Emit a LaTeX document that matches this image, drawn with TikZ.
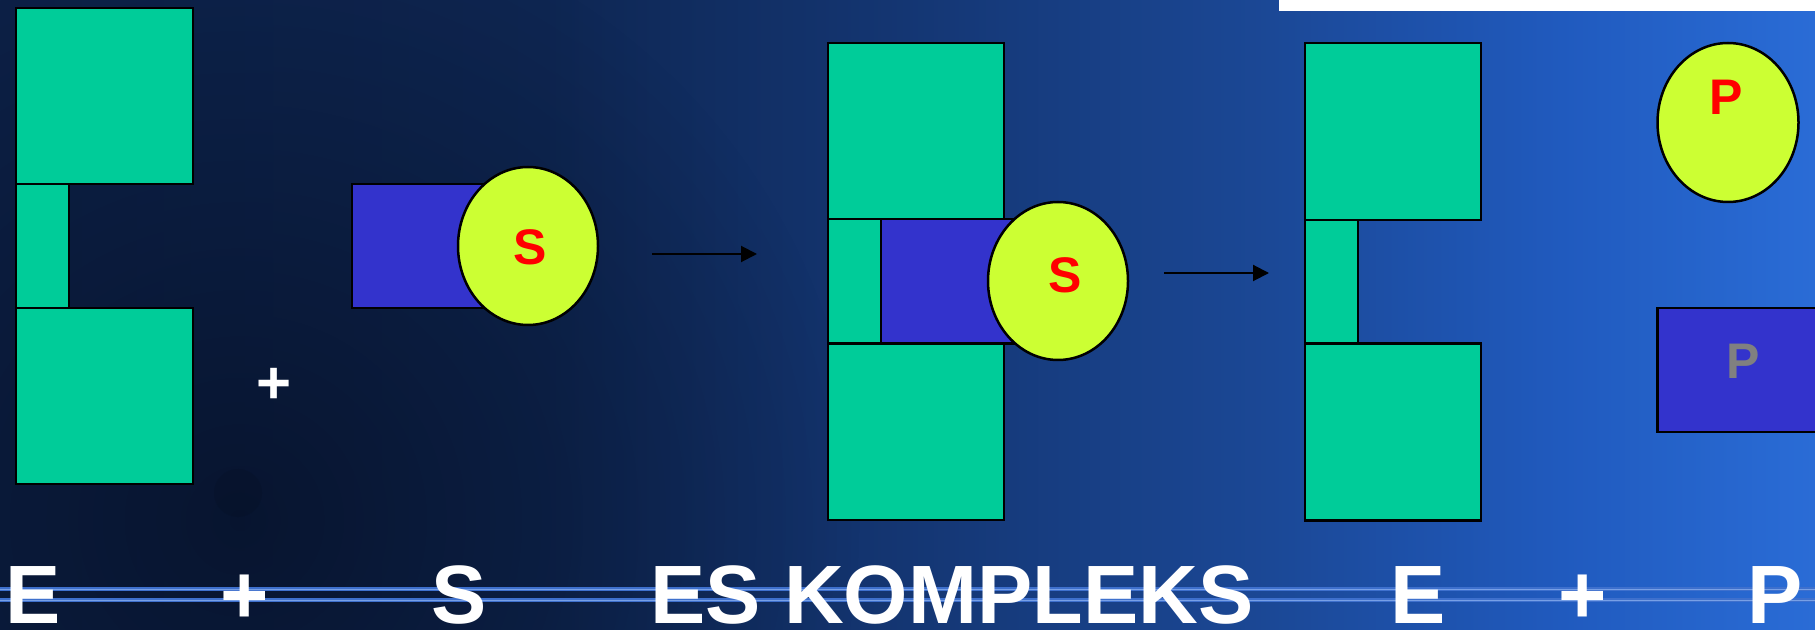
\documentclass[tikz,border=0pt]{standalone}
\usepackage{fontspec}
\setmainfont{Liberation Sans}
\usetikzlibrary{arrows.meta,fadings,shapes.geometric}
\definecolor{tealc}{RGB}{0,204,153}
\definecolor{sblue}{RGB}{51,51,204}
\definecolor{limec}{RGB}{204,255,51}
\definecolor{redc}{RGB}{255,0,0}
\definecolor{grayc}{RGB}{128,128,128}
\definecolor{linec}{RGB}{62,112,205}
\definecolor{linecore}{RGB}{120,160,230}
\definecolor{darkc}{RGB}{6,16,38}
\definecolor{bga}{RGB}{13,33,72}
\definecolor{bgb}{RGB}{14,38,82}
\definecolor{bgc}{RGB}{20,54,115}
\definecolor{bgd}{RGB}{27,72,150}
\definecolor{bge}{RGB}{32,90,190}
\definecolor{bgf}{RGB}{42,108,214}
\pgfdeclarehorizontalshading{bgshade}{100bp}{color(0bp)=(bga); color(25bp)=(bga); color(40bp)=(bgb); color(50bp)=(bgc); color(60bp)=(bgd); color(68bp)=(bge); color(75bp)=(bgf); color(100bp)=(bgf)}
\tikzfading[name=myfadeout, inner color=transparent!0, outer color=transparent!100]
\begin{document}
\begin{tikzpicture}[x=0.5pt,y=-0.5pt,
  tealbox/.style={fill=tealc,draw=black,line width=1.25pt},
  bluebox/.style={fill=sblue,draw=black,line width=1.25pt},
  blob/.style={ellipse,fill=limec,draw=black,line width=1.25pt,minimum width=70pt,minimum height=79pt,inner sep=0pt},
  smalltxt/.style={inner sep=0pt,font=\bfseries\fontsize{25}{30}\selectfont},
  bigtxt/.style={inner sep=0pt,anchor=base,text=white,font=\bfseries\fontsize{41.4}{50}\selectfont},
  arr/.style={draw=black,line width=1pt,-{Triangle[length=8pt,width=8pt]}},
  glowline/.style={draw=linec,line width=1.6pt},
  glowcore/.style={draw=linecore,line width=0.5pt}]
\useasboundingbox (0,0) rectangle (1815,630);
\clip (0,0) rectangle (1815,630);
% background
\shade[shading=bgshade] (0,0) rectangle (1815,630);
\fill[darkc,opacity=0.75,path fading=myfadeout] (240,520) circle (620);
\fill[darkc,opacity=0.35] (238,493) circle (24);
\fill[white] (1279,0) rectangle (1815,11);
% horizontal glow lines
\draw[glowline] (0,589) -- (1815,589);
\draw[glowline] (0,600) -- (1815,600);
\draw[glowcore] (0,589) -- (1815,589);
\draw[glowcore] (0,600) -- (1815,600);
% enzyme E (left)
\path[tealbox] (16,8) rectangle (193,184);
\path[tealbox] (16,184) rectangle (69,308);
\path[tealbox] (16,308) rectangle (193,484);
% substrate S
\path[bluebox] (352,184) rectangle (528,308);
\node[blob] (s1) at (528,246) {};
\node[smalltxt,text=redc] (s1t) at (530,247) {S};
% small plus
\node[inner sep=0pt,text=white,font=\bfseries\fontsize{30}{36}\selectfont] (pl0) at (274,386) {+};
% arrow 1
\coordinate (a1s) at (652,254);
\coordinate (a1e) at (757,254);
\draw[arr] (a1s) -- (a1e);
% ES complex
\path[tealbox] (828,43) rectangle (1004,219);
\path[bluebox] (881,219) rectangle (1058,343.5);
\path[tealbox] (828,219) rectangle (881,343.5);
\path[tealbox] (828,343.5) rectangle (1004,520);
\node[blob] (s2) at (1058,281) {};
\node[smalltxt,text=redc] (s2t) at (1065,275) {S};
% arrow 2
\coordinate (a2s) at (1164,273);
\coordinate (a2e) at (1269,273);
\draw[arr] (a2s) -- (a2e);
% enzyme E (right)
\path[tealbox] (1305,43) rectangle (1481,220);
\path[tealbox] (1305,220) rectangle (1358,343.5);
\path[tealbox] (1305,343.5) rectangle (1481,520.5);
% product P (ball)
\node[blob,minimum width=70.5pt,minimum height=79.5pt] (p1) at (1728,122.5) {};
\node[smalltxt,text=redc] (p1t) at (1726,97) {P};
% product P (block)
\path[bluebox] (1657.5,308) rectangle (1840,432);
\node[smalltxt,text=grayc] (p2t) at (1743.5,361) {P};
% bottom labels
\node[bigtxt] (lE) at (33.6,623) {E};
\node[bigtxt] (lp1) at (245,623) {+};
\node[bigtxt] (lS) at (459,623) {S};
\node[bigtxt] (lES) at (952,623) {ES KOMPLEKS};
\node[bigtxt] (lE2) at (1418,623) {E};
\node[bigtxt] (lp2) at (1583,623) {+};
\node[bigtxt] (lP) at (1775,623) {P};
\end{tikzpicture}
\end{document}
